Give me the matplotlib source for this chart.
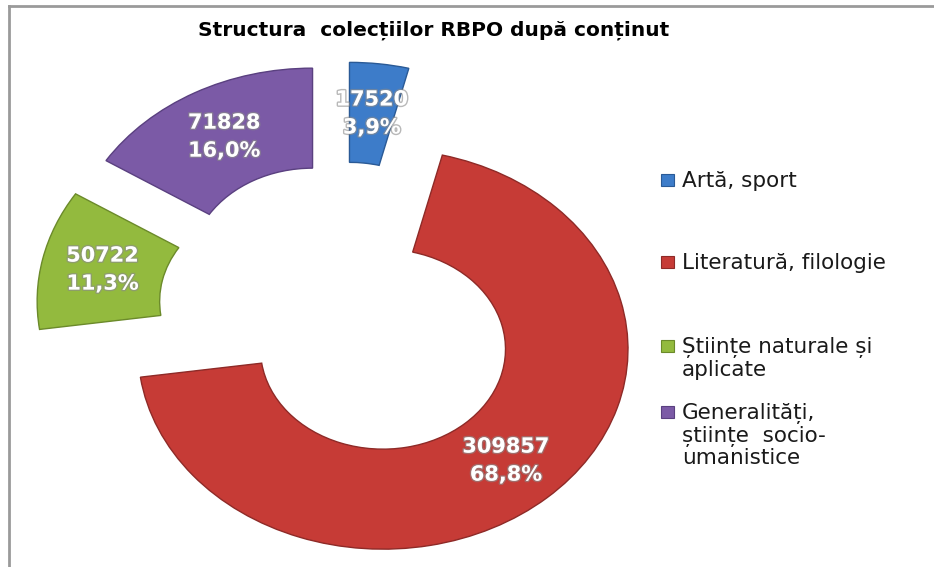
import numpy as np
import matplotlib
matplotlib.use("Agg")
import matplotlib.pyplot as plt
import matplotlib.patheffects as pe
from matplotlib.lines import Line2D
from matplotlib.patches import Rectangle

TITLE = "Structura  colecțiilor RBPO după conținut"
CATEGORIES = [
    "Artă, sport",
    "Literatură, filologie",
    "Științe naturale și\naplicate",
    "Generalități,\nștiințe  socio-\numanistice",
]
VALUES = [17520, 309857, 50722, 71828]
PERCENTS = [3.9, 68.8, 11.3, 16.0]
COLORS = ["#3D7CC9", "#C63B36", "#93BA3E", "#7B5AA6"]
EDGES = ["#2A5A96", "#8E2A27", "#6B8A2A", "#5A4080"]

W, H = 934, 567
fig = plt.figure(figsize=(W / 100, H / 100), dpi=100)
ax = fig.add_axes([0, 0, 1, 1])

wedges, _ = ax.pie(
    VALUES,
    explode=[0.25] * len(VALUES),
    startangle=90,
    counterclock=False,
    colors=COLORS,
    wedgeprops=dict(width=0.5, linewidth=1.0),
)
for w, ec in zip(wedges, EDGES):
    w.set_edgecolor(ec)

# the original is stretched horizontally, so no equal aspect
cx, cy, sx, sy = 342, 312, 245, 200
ax.set_aspect("auto")
ax.set_xlim(-cx / sx, (W - cx) / sx)
ax.set_ylim(-(H - cy) / sy, cy / sy)
ax.axis("off")

for w, v, p in zip(wedges, VALUES, PERCENTS):
    mid = np.deg2rad(0.5 * (w.theta1 + w.theta2))
    x0, y0 = w.center
    ax.text(
        x0 + 0.75 * np.cos(mid), y0 + 0.75 * np.sin(mid),
        f"{v}\n{p:.1f}%".replace(".", ","),
        ha="center", va="center", color="white", fontsize=15,
        fontweight="bold", linespacing=1.5,
        path_effects=[pe.withStroke(linewidth=2, foreground="#8a8a8a", alpha=0.6)],
    )

fig.text(434 / W, 1 - 30 / H, TITLE, ha="center", va="center",
         fontsize=14.5, fontweight="bold", color="black")

# legend, one entry per category
leg_rows = [180, 262, 346, 412]
for lab, col, ec, yrow in zip(CATEGORIES, COLORS, EDGES, leg_rows):
    fig.add_artist(Rectangle((661 / W, 1 - (yrow + 6) / H), 13 / W, 12 / H,
                             transform=fig.transFigure, facecolor=col,
                             edgecolor=ec, linewidth=0.8))
    fig.text(682 / W, 1 - (yrow - 9) / H, lab, ha="left", va="top",
             fontsize=15.5, color="#1a1a1a", linespacing=1.1)

# chart frame (top and left edges visible)
fig.add_artist(Line2D([9 / W, 1], [1 - 6 / H, 1 - 6 / H], transform=fig.transFigure,
                      color="#9a9a9a", linewidth=2))
fig.add_artist(Line2D([9 / W, 9 / W], [0, 1 - 6 / H], transform=fig.transFigure,
                      color="#9a9a9a", linewidth=2))

fig.savefig("out.png", dpi=100)
